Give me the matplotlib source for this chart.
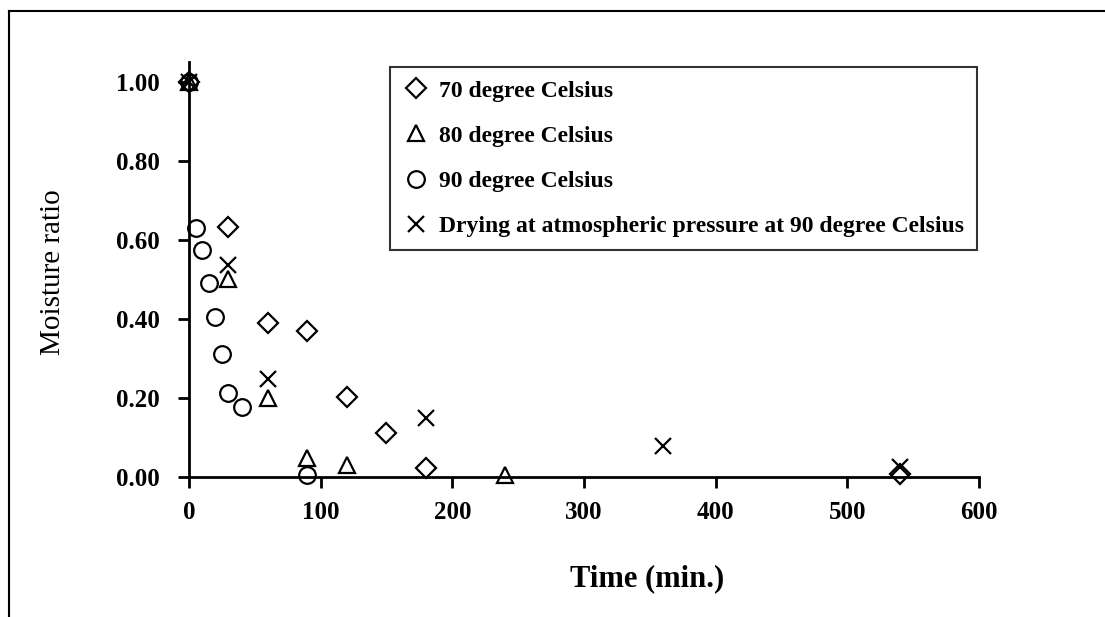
import matplotlib
matplotlib.use("Agg")
import matplotlib.pyplot as plt
from matplotlib.lines import Line2D

plt.rcParams["font.family"] = "Liberation Serif"

# drying curves
t70 = [0, 30, 60, 90, 120, 150, 180, 540]
mr70 = [1.0, 0.633, 0.39, 0.37, 0.203, 0.111, 0.023, 0.008]

t80 = [0, 30, 60, 90, 120, 240]
mr80 = [1.0, 0.50, 0.20, 0.048, 0.03, 0.006]

t90 = [0, 5, 10, 15, 20, 25, 30, 40, 90]
mr90 = [1.0, 0.63, 0.575, 0.49, 0.405, 0.31, 0.213, 0.177, 0.004]

t_atm = [0, 30, 60, 180, 360, 540]
mr_atm = [1.0, 0.537, 0.248, 0.149, 0.078, 0.025]

labels = ["70 degree Celsius", "80 degree Celsius", "90 degree Celsius",
          "Drying at atmospheric pressure at 90 degree Celsius"]
xticks = [0, 100, 200, 300, 400, 500, 600]
yticks = [0.0, 0.2, 0.4, 0.6, 0.8, 1.0]

fig = plt.figure(figsize=(11.05, 6.17), dpi=100)
ax = fig.add_axes([0.171, 0.227, 0.715, 0.6725])

mk = dict(linestyle="none", markeredgecolor="black",
          markeredgewidth=1.6, clip_on=False)
ax.plot(t70, mr70, marker="D", markersize=10, markerfacecolor="none",
        label=labels[0], **mk)
ax.plot(t80, mr80, marker="^", markersize=11.5, markerfacecolor="none",
        label=labels[1], **mk)
ax.plot(t90, mr90, marker="o", markersize=12, markerfacecolor="none",
        label=labels[2], **mk)
ax.plot(t_atm, mr_atm, marker="x", markersize=12, color="black",
        label=labels[3], **mk)

ax.set_xlim(0, 600)
ax.set_ylim(0, 1.05)
ax.set_xticks(xticks)
ax.set_yticks(yticks)
ax.set_yticklabels([f"{v:.2f}" for v in yticks])
for s in ["top", "right"]:
    ax.spines[s].set_visible(False)
for s in ["left", "bottom"]:
    ax.spines[s].set_linewidth(2)
ax.tick_params(axis="both", direction="out", length=8, width=2, labelsize=18)
ax.tick_params(axis="y", pad=13)
ax.tick_params(axis="x", pad=9)
for lab in ax.get_xticklabels() + ax.get_yticklabels():
    lab.set_fontweight("bold")

ax.set_xlabel("Time (min.)", fontsize=22, fontweight="bold")
ax.xaxis.set_label_coords(0.58, -0.21)
ax.set_ylabel("Moisture ratio", fontsize=21)
ax.yaxis.set_label_coords(-0.155, 0.494)

leg = ax.legend(loc="upper left", bbox_to_anchor=(0.254, 0.988),
                borderaxespad=0, frameon=True, fancybox=False,
                edgecolor="black", prop={"weight": "bold", "size": 17},
                labelspacing=1.0, handletextpad=0.45, borderpad=0.55,
                handlelength=1.1)
leg.get_frame().set_linewidth(1.5)

# frame lines around the figure
fig.add_artist(Line2D([0.008, 1.0], [0.982, 0.982], color="black", linewidth=1.5))
fig.add_artist(Line2D([0.008, 0.008], [0.0, 0.982], color="black", linewidth=1.5))

fig.savefig("out.png", dpi=100)
